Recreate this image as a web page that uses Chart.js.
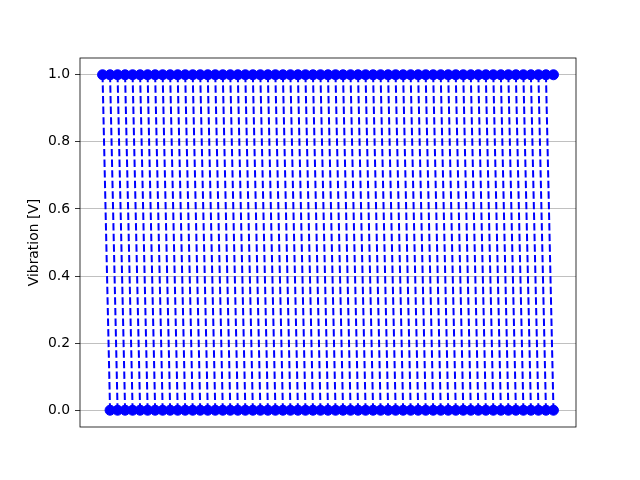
<!DOCTYPE html>
<html>
<head>
<meta charset="utf-8">
<script src="https://cdn.jsdelivr.net/npm/chart.js@4"></script>
<style>
  html, body { margin: 0; padding: 0; background: #ffffff; }
  canvas { display: block; }
</style>
</head>
<body>
<canvas id="c" width="640" height="480"></canvas>
<script>
// Sample index of each reading (x axis has no tick labels)
const sampleTimes = [0,1,2,3,4,5,6,7,8,9,10,11,12,13,14,15,16,17,18,19,20,
  21,22,23,24,25,26,27,28,29,30,31,32,33,34,35,36,37,38,39,40,
  41,42,43,44,45,46,47,48,49,50,51,52,53,54,55,56,57,58,59,60];
// High reading at each sample
const highReadings = [1,1,1,1,1,1,1,1,1,1,1,1,1,1,1,1,1,1,1,1,1,
  1,1,1,1,1,1,1,1,1,1,1,1,1,1,1,1,1,1,1,1,
  1,1,1,1,1,1,1,1,1,1,1,1,1,1,1,1,1,1,1,1];
// Low reading at each sample (none at the first sample)
const lowReadings = [null,0,0,0,0,0,0,0,0,0,0,0,0,0,0,0,0,0,0,0,0,
  0,0,0,0,0,0,0,0,0,0,0,0,0,0,0,0,0,0,0,0,
  0,0,0,0,0,0,0,0,0,0,0,0,0,0,0,0,0,0,0,0];
const yTicks = [0.0, 0.2, 0.4, 0.6, 0.8, 1.0];
const yLabel = 'Vibration [V]';

// Each high reading falls to the low reading of the next sample
const pathData = [];
for (let k = 0; k < sampleTimes.length; k++) {
  pathData.push({x: sampleTimes[k], y: highReadings[k]});
  if (k + 1 < sampleTimes.length && lowReadings[k + 1] !== null) {
    pathData.push({x: sampleTimes[k + 1], y: lowReadings[k + 1]});
    pathData.push({x: sampleTimes[k + 1], y: null});
  }
}

const tMin = Math.min(...sampleTimes), tMax = Math.max(...sampleTimes);
const tPad = (tMax - tMin) * 0.05;
const vMin = 0, vMax = 1, vPad = (vMax - vMin) * 0.05;

const framePlugin = {
  id: 'frame',
  afterDatasetsDraw(chart) {
    const {ctx, chartArea: a} = chart;
    ctx.save();
    ctx.strokeStyle = '#000000';
    ctx.lineWidth = 0.8;
    ctx.strokeRect(a.left, a.top, a.right - a.left, a.bottom - a.top);
    ctx.restore();
  }
};

new Chart(document.getElementById('c'), {
  type: 'line',
  data: {
    datasets: [{
      data: pathData,
      borderColor: '#0000ff',
      backgroundColor: '#0000ff',
      borderWidth: 2,
      borderDash: [7.4, 3.2],
      pointRadius: 5,
      pointBorderWidth: 1,
      pointBorderColor: '#0000ff',
      pointBackgroundColor: '#0000ff',
      spanGaps: false,
      tension: 0,
      fill: false
    }]
  },
  options: {
    responsive: false,
    animation: false,
    devicePixelRatio: 1,
    layout: { padding: { top: 58, right: 64, left: 0, bottom: 0 } },
    plugins: { legend: { display: false }, tooltip: { enabled: false } },
    scales: {
      x: {
        type: 'linear',
        min: tMin - tPad,
        max: tMax + tPad,
        ticks: { display: false },
        grid: { display: false },
        border: { display: false },
        afterFit(scale) { scale.height = 53; }
      },
      y: {
        type: 'linear',
        min: vMin - vPad,
        max: vMax + vPad,
        afterBuildTicks(scale) { scale.ticks = yTicks.map(v => ({value: v})); },
        afterFit(scale) { scale.width = 80; },
        ticks: {
          color: '#000000',
          font: { family: 'DejaVu Sans', size: 13.9 },
          padding: 5,
          callback: v => Number(v).toFixed(1)
        },
        grid: {
          color: '#b0b0b0',
          lineWidth: 0.8,
          tickColor: '#000000',
          tickLength: 5,
          drawTicks: true
        },
        border: { display: false },
        title: {
          display: true,
          text: yLabel,
          color: '#000000',
          font: { family: 'DejaVu Sans', size: 13.9 },
          padding: { top: 26, bottom: 0 }
        }
      }
    }
  },
  plugins: [framePlugin]
});
</script>
</body>
</html>
